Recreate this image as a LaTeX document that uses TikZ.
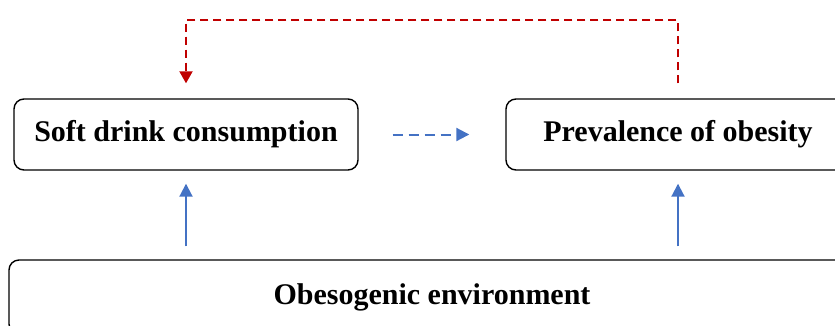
\documentclass[tikz,border=0pt]{standalone}
\usepackage{fontspec}
\setmainfont{Liberation Serif}
\usetikzlibrary{arrows.meta}

\definecolor{linkred}{HTML}{C00000}
\definecolor{linkblue}{HTML}{4472C4}

\tikzset{
    factor/.style={draw=black, line width=1.4pt, rounded corners=10pt,
        font=\fontsize{30}{36}\selectfont\bfseries, inner sep=0pt},
    drive/.style={linkblue, line width=2pt,
        -{Triangle[width=13pt, length=13pt]}},
    feedback/.style={linkred, line width=2pt, dash pattern=on 8pt off 5pt,
        -{Triangle[width=13pt, length=12pt]}},
    link/.style={linkblue, line width=2pt, dash pattern=on 10pt off 6pt,
        -{Triangle[width=13pt, length=13pt]}}
}

\begin{document}
\begin{tikzpicture}[x=1pt, y=-1pt]
    \clip (0,0) rectangle (835,325);

    % --- THE THREE FACTORS ---
    \node[factor, minimum width=344pt, minimum height=71pt] (soft) at (186,134.5) {Soft drink consumption};
    \node[factor, minimum width=344pt, minimum height=71pt] (prev) at (678,134.5) {Prevalence of obesity};
    \node[factor, minimum width=846pt, minimum height=74pt] (env) at (432,297) {Obesogenic environment};

    % --- ENVIRONMENT DRIVES BOTH ---
    \draw[drive, shorten <=13pt, shorten >=13pt] (soft.south |- env.north) -- (soft.south);
    \draw[drive, shorten <=13pt, shorten >=13pt] (prev.south |- env.north) -- (prev.south);

    % --- CONSUMPTION TO OBESITY ---
    \draw[link, shorten <=34pt, shorten >=36pt] (soft.east) -- (prev.west);

    % --- FEEDBACK LOOP ---
    \draw[feedback, shorten <=15pt, shorten >=15pt]
        (prev.north) -- (prev.north |- 0,20) -- (soft.north |- 0,20) -- (soft.north);
\end{tikzpicture}
\end{document}
